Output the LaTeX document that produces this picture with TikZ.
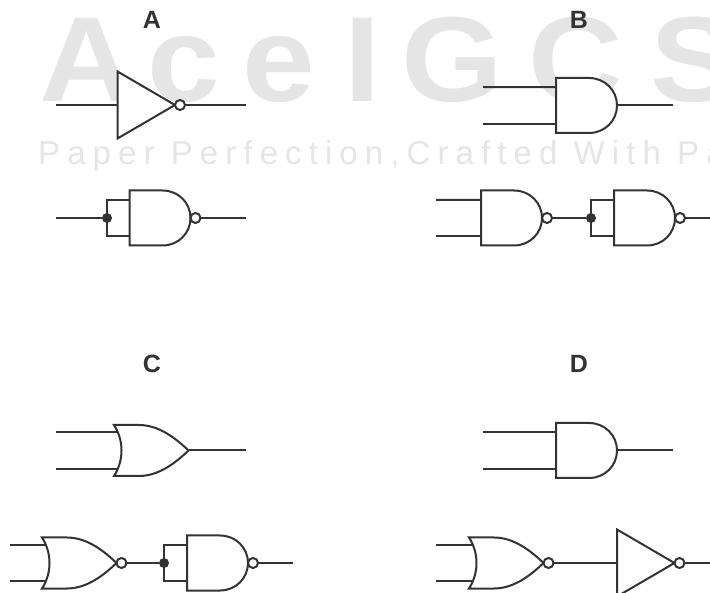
\documentclass[tikz,border=0pt]{standalone}
\usepackage{fontspec}
\usepackage{tikz}
\usetikzlibrary{
    calc,
    positioning
}
\newfontfamily\bigmark[FakeStretch=1.08]{Liberation Sans Bold}
\newfontfamily\smallmark[LetterSpace=21.5]{Liberation Sans}
\newfontfamily\labelfont{Liberation Sans Bold}
\definecolor{ink}{HTML}{333333}
\definecolor{mark}{HTML}{E5E5E5}
\tikzset{
    wire/.style={line width=2pt, draw=ink},
    body/.style={line width=2pt, draw=ink, fill=white},
    dot/.style={circle, fill=ink, inner sep=0pt, minimum size=10pt},
    title/.style={text=ink, font=\labelfont\fontsize{25}{25}\selectfont},
    andbody/.pic={
        \draw[body] (0, -27.5) -- (33, -27.5) .. controls (49, -27.5) and (61, -15) .. (61, 0)
            .. controls (61, 15) and (49, 27.5) .. (33, 27.5) -- (0, 27.5) -- cycle;
        \coordinate (-a) at (0, -18.25);
        \coordinate (-b) at (0, 18.25);
        \coordinate (-o) at (61, 0);
    },
    nandbody/.pic={
        \draw[body] (0, -27.5) -- (33, -27.5) .. controls (49, -27.5) and (61, -15) .. (61, 0)
            .. controls (61, 15) and (49, 27.5) .. (33, 27.5) -- (0, 27.5) -- cycle;
        \draw[body] (66, 0) circle (5);
        \coordinate (-a) at (0, -18.25);
        \coordinate (-b) at (0, 18.25);
        \coordinate (-o) at (71, 0);
    },
    orbody/.pic={
        \draw[body] (0, -25.5) -- (25, -25.5) .. controls (45, -25.5) and (62, -12) .. (74.5, 0)
            .. controls (62, 12) and (45, 25.5) .. (25, 25.5) -- (0, 25.5)
            .. controls (10, 10) and (10, -10) .. cycle;
        \coordinate (-a) at (4, -18.25);
        \coordinate (-b) at (4, 18.25);
        \coordinate (-o) at (74.5, 0);
    },
    norbody/.pic={
        \draw[body] (0, -25.5) -- (25, -25.5) .. controls (45, -25.5) and (62, -12) .. (74.5, 0)
            .. controls (62, 12) and (45, 25.5) .. (25, 25.5) -- (0, 25.5)
            .. controls (10, 10) and (10, -10) .. cycle;
        \draw[body] (79.5, 0) circle (5);
        \coordinate (-a) at (4, -18.25);
        \coordinate (-b) at (4, 18.25);
        \coordinate (-o) at (84.5, 0);
    },
    notbody/.pic={
        \draw[body] (0, -33.5) -- (57.5, 0) -- (0, 33.5) -- cycle;
        \draw[body] (62.5, 0) circle (5);
        \coordinate (-i) at (0, 0);
        \coordinate (-o) at (67.5, 0);
    }
}
\begin{document}
\begin{tikzpicture}[x=1pt, y=-1pt]
    \useasboundingbox (0, 0) rectangle (710, 593);
    % watermark
    \node[anchor=base west, inner sep=0pt, text=mark, font=\bigmark\fontsize{121}{121}\selectfont] (bigtext) at (39, 102) {A\kern14pt c\kern22.5pt e\kern29pt I\kern20.5pt G\kern25.5pt C\kern27.5pt S};
    \node[anchor=base west, inner sep=0pt, text=mark, font=\smallmark\fontsize{33}{33}\selectfont] (smalltext) at (38, 165) {Paper Perfection,Crafted With Pa};

    \node[title] (la) at (152, 20) {A};
    \node[title] (lb) at (579, 20) {B};
    \node[title] (lc) at (152, 364) {C};
    \node[title] (ld) at (579, 364) {D};

    % A
    \coordinate (a1in) at (56, 105);
    \coordinate (a1out) at (246, 105);
    \coordinate (a2in) at (56, 218);
    \coordinate (a2out) at (246, 218);
    \node[dot] (a2dot) at (107, 218) {};
    \draw[wire] (a1in) -- (117.5, 105);
    \pic (a1) at (117.5, 105) {notbody};
    \pic (a2) at (129.5, 218) {nandbody};
    \draw[wire] (a1-o) -- (a1out);
    \draw[wire] (a2in) -- (a2dot);
    \draw[wire] (a2dot.center) |- (a2-a);
    \draw[wire] (a2dot.center) |- (a2-b);
    \draw[wire] (a2-o) -- (a2out);

    % B
    \pic (b1) at (556, 105.5) {andbody};
    \pic (b2) at (481, 218) {nandbody};
    \pic (b3) at (614, 218) {nandbody};
    \coordinate (b1ina) at (483, 87);
    \coordinate (b1inb) at (483, 123.75);
    \coordinate (b1out) at (673, 105.5);
    \coordinate (b2ina) at (436, 200);
    \coordinate (b2inb) at (436, 236.25);
    \coordinate (b3out) at (710, 218);
    \node[dot] (b3dot) at (591, 218) {};
    \draw[wire] (b1ina) -- (b1-a);
    \draw[wire] (b1inb) -- (b1-b);
    \draw[wire] (b1-o) -- (b1out);
    \draw[wire] (b2ina) -- (b2-a);
    \draw[wire] (b2inb) -- (b2-b);
    \draw[wire] (b2-o) -- (b3dot);
    \draw[wire] (b3dot.center) |- (b3-a);
    \draw[wire] (b3dot.center) |- (b3-b);
    \draw[wire] (b3-o) -- (b3out);

    % C
    \pic (c1) at (114, 450.5) {orbody};
    \pic (c2) at (42, 563) {norbody};
    \pic (c3) at (187, 563) {nandbody};
    \coordinate (c1ina) at (56, 432.25);
    \coordinate (c1inb) at (56, 468.75);
    \coordinate (c1out) at (246, 450.5);
    \coordinate (c2ina) at (10, 544.75);
    \coordinate (c2inb) at (10, 581.25);
    \coordinate (c3out) at (293, 563);
    \node[dot] (c3dot) at (164, 563) {};
    \draw[wire] (c1ina) -- (c1-a);
    \draw[wire] (c1inb) -- (c1-b);
    \draw[wire] (c1-o) -- (c1out);
    \draw[wire] (c2ina) -- (c2-a);
    \draw[wire] (c2inb) -- (c2-b);
    \draw[wire] (c2-o) -- (c3dot);
    \draw[wire] (c3dot.center) |- (c3-a);
    \draw[wire] (c3dot.center) |- (c3-b);
    \draw[wire] (c3-o) -- (c3out);

    % D
    \pic (d1) at (556, 450.5) {andbody};
    \pic (d2) at (469, 563) {norbody};
    \pic (d3) at (617, 563) {notbody};
    \coordinate (d1ina) at (483, 432.25);
    \coordinate (d1inb) at (483, 468.75);
    \coordinate (d1out) at (673, 450.5);
    \coordinate (d2ina) at (436, 544.75);
    \coordinate (d2inb) at (436, 581.25);
    \coordinate (d3out) at (710, 563);
    \draw[wire] (d1ina) -- (d1-a);
    \draw[wire] (d1inb) -- (d1-b);
    \draw[wire] (d1-o) -- (d1out);
    \draw[wire] (d2ina) -- (d2-a);
    \draw[wire] (d2inb) -- (d2-b);
    \draw[wire] (d2-o) -- (d3-i);
    \draw[wire] (d3-o) -- (d3out);
\end{tikzpicture}
\end{document}
